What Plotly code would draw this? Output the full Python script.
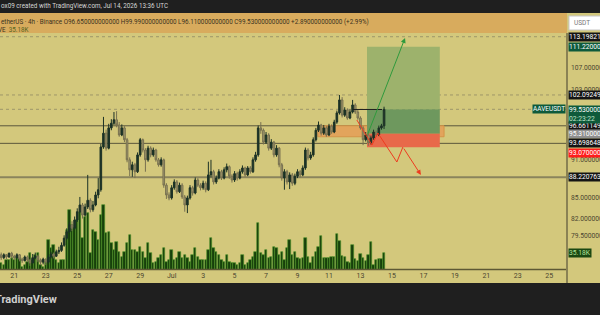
import math
import pandas as pd
import plotly.graph_objects as go

# ---------------- data ----------------
candle_start = "2026-06-20 04:00"
candle_count = 147
first_open = 76.9
close = [
    76.5, 76.9, 76.6, 77.1, 76.7,
    76.5, 76.9, 76.3, 76.1, 76.6, 76.2,
    75.8, 76.5, 76.7, 76.2, 75.9, 76.3,
    75.9, 76.6, 77.0, 76.7, 77.3, 77.5,
    78.2, 79.2, 80.1, 81.1, 80.6, 81.8,
    83.0, 84.0, 82.5, 83.7, 84.7, 83.3,
    84.0, 85.5, 86.3, 93.1, 95.4, 92.9,
    96.3, 97.1, 97.7, 96.8, 95.1, 96.3,
    94.3, 91.0, 89.4, 90.2, 89.1, 91.8,
    94.3, 92.6, 91.0, 92.9, 91.8, 92.6,
    91.0, 90.2, 91.0, 87.0, 85.5, 85.05,
    86.6, 87.5, 86.0, 87.0, 85.2, 84.0,
    85.05, 86.6, 85.8, 87.8, 87.0, 86.6,
    87.3, 86.3, 88.6, 89.1, 87.5, 88.1,
    89.1, 88.1, 89.4, 89.9, 88.4, 87.8,
    88.8, 88.1, 89.1, 89.7, 88.6, 89.7,
    89.1, 91.0, 91.8, 96.3, 95.9, 93.9,
    95.1, 92.9, 93.9, 91.8, 92.9, 90.2,
    88.1, 89.1, 87.5, 88.6, 87.3, 88.4,
    89.1, 88.6, 89.7, 92.6, 91.3, 91.8,
    94.3, 95.9, 96.8, 95.4, 96.3, 95.1,
    96.6, 95.6, 97.3, 98.9, 101.2, 98.5,
    99.4, 98.0, 99.05, 100.3, 99.05, 98.0,
    96.3, 94.3, 95.1, 93.8, 94.6, 95.6,
    95.1, 96.3, 96.65, 99.53,
]
high = [
    77.2, 77.1, 77.0, 77.2, 77.3,
    76.9, 77.1, 77.0, 76.5, 76.8, 76.8,
    76.3, 77.0, 77.2, 76.9, 76.4, 76.5,
    76.4, 76.9, 77.3, 77.2, 77.6, 78.0,
    78.6, 79.6, 80.6, 81.5, 81.6, 82.3,
    83.5, 85.2, 84.3, 84.2, 88.6, 85.0,
    84.6, 86.0, 88.1, 93.6, 98.2, 96.0,
    97.0, 97.8, 99.05, 99.2, 97.3, 96.9,
    96.6, 94.6, 91.4, 90.7, 90.5, 92.2,
    94.6, 94.5, 92.9, 93.3, 93.2, 93.0,
    92.8, 91.3, 91.4, 91.2, 87.3, 85.9,
    87.0, 87.9, 87.8, 87.4, 87.3, 85.5,
    85.4, 87.0, 86.9, 88.2, 88.1, 87.3,
    87.7, 87.6, 90.7, 91.0, 89.4, 88.5,
    89.5, 89.4, 89.8, 90.4, 90.1, 88.7,
    89.2, 89.1, 89.5, 90.1, 89.9, 90.0,
    90.0, 91.4, 92.3, 96.7, 97.3, 96.2,
    95.6, 95.4, 94.4, 94.1, 93.4, 93.1,
    90.5, 89.5, 89.4, 89.0, 88.9, 88.8,
    89.5, 89.4, 90.1, 93.0, 92.9, 92.3,
    94.7, 96.3, 97.4, 97.0, 96.8, 96.6,
    97.0, 96.9, 97.7, 99.3, 102.09, 101.7,
    99.9, 99.7, 99.5, 101.2, 100.6, 99.4,
    98.3, 96.6, 95.6, 95.4, 95.0, 96.0,
    95.9, 96.7, 97.0, 99.99,
]
low = [
    76.2, 76.3, 76.3, 76.5, 76.4,
    76.2, 76.4, 76.0, 75.8, 76.0, 75.9,
    75.4, 75.7, 76.3, 75.9, 75.5, 75.6,
    75.5, 75.7, 76.4, 76.4, 76.6, 77.0,
    77.3, 78.0, 79.0, 79.9, 80.2, 80.4,
    81.5, 82.8, 82.0, 82.3, 83.4, 82.9,
    83.0, 83.8, 85.0, 86.0, 92.8, 92.5,
    92.7, 95.9, 96.8, 96.4, 94.8, 94.9,
    93.9, 90.6, 88.4, 88.3, 88.1, 88.9,
    91.5, 92.2, 89.1, 90.7, 91.4, 91.5,
    90.7, 89.9, 89.9, 86.6, 84.9, 84.7,
    84.8, 86.3, 85.7, 85.8, 84.9, 83.0,
    82.8, 84.8, 85.4, 85.6, 86.7, 86.2,
    86.3, 85.9, 86.1, 88.2, 87.1, 87.2,
    87.9, 87.8, 87.9, 89.0, 88.0, 87.4,
    87.5, 87.7, 87.9, 88.8, 88.3, 88.4,
    88.8, 88.9, 90.7, 91.5, 95.3, 93.5,
    93.6, 92.5, 92.6, 91.4, 91.5, 89.8,
    87.7, 86.3, 87.1, 86.4, 86.9, 87.0,
    88.1, 88.2, 88.4, 89.4, 90.9, 91.0,
    91.5, 94.0, 95.6, 95.0, 95.1, 94.8,
    94.9, 95.3, 95.4, 97.0, 98.6, 98.1,
    98.2, 97.7, 97.8, 98.8, 98.7, 97.7,
    96.0, 93.4, 94.0, 93.3, 93.5, 94.3,
    94.8, 94.9, 96.0, 96.11,
]
volume_k = [
    13.8, 10.3, 20.7, 20.7, 24.1,
    20.7, 27.6, 24.1, 6.9, 10.3, 17.2,
    34.5, 20.7, 31.0, 34.5, 10.3, 6.9,
    17.2, 62.1, 44.8, 51.7, 20.7, 13.8,
    20.7, 20.7, 82.8, 124.2, 93.1, 86.2,
    103.5, 120.7, 65.5, 110.4, 117.3, 34.5,
    82.8, 79.3, 62.1, 113.8, 134.5, 75.9,
    79.3, 55.2, 41.4, 58.6, 37.9, 27.6,
    37.9, 55.2, 72.4, 41.4, 41.4, 37.9,
    48.3, 37.9, 24.1, 55.2, 34.5, 13.8,
    17.2, 24.1, 31.0, 44.8, 17.2, 20.7,
    41.4, 20.7, 24.1, 37.9, 24.1, 31.0,
    24.1, 17.2, 31.0, 44.8, 27.6, 20.7,
    20.7, 20.7, 41.4, 65.5, 44.8, 37.9,
    31.0, 20.7, 17.2, 31.0, 17.2, 13.8,
    13.8, 10.3, 13.8, 31.0, 10.3, 13.8,
    20.7, 27.6, 37.9, 96.6, 34.5, 31.0,
    41.4, 24.1, 27.6, 48.3, 44.8, 31.0,
    37.9, 20.7, 44.8, 62.1, 31.0, 37.9,
    24.1, 22.8, 24.1, 65.5, 27.6, 13.8,
    27.6, 37.9, 48.3, 71.1, 25.5, 24.1,
    24.1, 27.6, 27.6, 74.5, 60.7, 29.0,
    27.6, 17.2, 13.8, 51.7, 22.8, 18.6,
    32.4, 25.5, 18.6, 31.0, 57.3, 10.3,
    20.7, 22.1, 22.8, 35.18,
]

tick_dates = ["2026-06-21", "2026-06-23", "2026-06-25", "2026-06-27", "2026-06-29",
              "2026-07-01", "2026-07-03", "2026-07-05", "2026-07-07", "2026-07-09",
              "2026-07-11", "2026-07-13", "2026-07-15", "2026-07-17", "2026-07-19",
              "2026-07-21", "2026-07-23", "2026-07-25"]
tick_text = ["21", "23", "25", "27", "29", "Jul", "3", "5", "7", "9",
             "11", "13", "15", "17", "19", "21", "23", "25"]

x_range = ["2026-06-20 02:11", "2026-07-26 03:02"]
price_range = [74.85, 113.95]
volume_range = [0, 490]

solid_levels = [96.661149, 93.698648]
thick_level = 88.220763
dotted_levels = [113.19821, 102.092495, 99.53]

plain_labels = [107.0, 103.0, 91.0, 85.0, 82.0, 79.5]
plain_label_text = ["107.000000", "103.000000", "91.000000", "85.000000", "82.000000", "79.500000"]
box_labels = [113.19821, 111.22, 102.092495, 96.661149, 95.31, 93.698648, 93.07, 88.220763]
box_label_text = ["113.198210", "111.220000", "102.092495", "96.661149", "95.310000",
                  "93.698648", "93.070000", "88.220763"]
box_label_bg = ["#141414", "#0e5a3b", "#141414", "#141414", "#8f8f8f", "#141414", "#ff1c1c", "#141414"]
box_label_shift = [0, 0, 0, 0, 0, 0, -5.6, 0]
last_price = 99.53
countdown = "02:23:22"
last_volume = 35.18

zone_start, zone_end, zone_top, zone_bottom = "2026-07-10 07:00", "2026-07-18 07:30", 96.66, 94.8
pos_start, pos_end = "2026-07-13 10:00", "2026-07-18 01:00"
pos_entry, pos_target, pos_stop = 95.31, 111.22, 93.07
seg_start, seg_end, seg_price = "2026-07-12 12:30", "2026-07-14 08:50", 99.5
green_arrow_from = ("2026-07-13 10:00", 94.93)
green_arrow_to = ("2026-07-15 20:00", 112.94)
red_path_dates = ["2026-07-12 18:30", "2026-07-13 17:30", "2026-07-14 02:30",
                  "2026-07-15 07:30", "2026-07-15 16:40", "2026-07-16 20:10"]
red_path_prices = [97.66, 93.42, 95.44, 90.65, 93.08, 88.59]

# ---------------- styling ----------------
BG = "#d3c87c"
HEADER = "#d8ab5d"
DARK = "#1f1f1f"
FONT = "Roboto"
AX = 6.7
HD = 6.3

dates = pd.date_range(candle_start, periods=candle_count, freq="4h")
opens = [first_open] + close[:-1]

fig = go.Figure()
fig.add_trace(go.Bar(
    x=dates, y=volume_k, yaxis="y",
    width=4 * 3600 * 1000 * 0.9,
    marker=dict(color="#17400b", line=dict(color="#4b9428", width=0.6)),
    hoverinfo="skip", showlegend=False,
))
fig.add_trace(go.Candlestick(
    x=dates, open=opens, high=high, low=low, close=close, yaxis="y2",
    increasing=dict(line=dict(color="#1c3226", width=1), fillcolor="#1c3226"),
    decreasing=dict(line=dict(color="#777050", width=1), fillcolor="#a39c70"),
    whiskerwidth=0, showlegend=False, hoverinfo="skip",
))
fig.add_trace(go.Scatter(
    x=red_path_dates[:-1], y=red_path_prices[:-1], yaxis="y2", mode="lines",
    line=dict(color="#ee3b1f", width=1), hoverinfo="skip", showlegend=False,
))

shapes = []
shapes.append(dict(type="rect", xref="paper", yref="paper", x0=-0.01, x1=1.07, y0=1.0844, y1=1.2,
                   fillcolor=DARK, line=dict(width=0), layer="above"))
shapes.append(dict(type="rect", xref="paper", yref="paper", x0=-0.01, x1=1.0, y0=1.0, y1=1.0844,
                   fillcolor=HEADER, line=dict(width=0), layer="above"))
shapes.append(dict(type="rect", xref="paper", yref="paper", x0=1.0035, x1=1.07, y0=1.0127, y1=1.0717,
                   fillcolor="#ffffff", line=dict(color="#c8c8c8", width=1), layer="above"))
shapes.append(dict(type="rect", xref="paper", yref="paper", x0=-0.01, x1=1.07, y0=-0.2, y1=-0.0549,
                   fillcolor=DARK, line=dict(width=0), layer="above"))
shapes.append(dict(type="line", xref="paper", yref="paper", x0=0, x1=1, y0=0.002, y1=0.002,
                   line=dict(color="#5d5834", width=1.5), layer="above"))
shapes.append(dict(type="line", xref="paper", yref="paper", x0=1.0, x1=1.0, y0=-0.0549, y1=1.0,
                   line=dict(color="#8a8254", width=2), layer="above"))
shapes.append(dict(type="rect", xref="x", yref="y2", x0=zone_start, x1=zone_end, y0=zone_bottom, y1=zone_top,
                   fillcolor="#e2a45c", line=dict(color="#d49448", width=1), layer="below"))
shapes.append(dict(type="rect", xref="x", yref="y2", x0=pos_start, x1=pos_end, y0=last_price, y1=pos_target,
                   fillcolor="#9db26c", line=dict(width=0), layer="below"))
shapes.append(dict(type="rect", xref="x", yref="y2", x0=pos_start, x1=pos_end, y0=pos_entry, y1=last_price,
                   fillcolor="#6e985e", line=dict(width=0), layer="below"))
shapes.append(dict(type="rect", xref="x", yref="y2", x0=pos_start, x1=pos_end, y0=pos_stop, y1=pos_entry,
                   fillcolor="#e8694a", line=dict(width=0), layer="below"))
for lv in solid_levels:
    shapes.append(dict(type="line", xref="paper", yref="y2", x0=0, x1=1, y0=lv, y1=lv,
                       line=dict(color="#5b573c", width=1), layer="below"))
shapes.append(dict(type="line", xref="paper", yref="y2", x0=0, x1=1, y0=thick_level, y1=thick_level,
                   line=dict(color="#8a845c", width=2), layer="below"))
for lv in dotted_levels:
    shapes.append(dict(type="line", xref="paper", yref="y2", x0=0, x1=1, y0=lv, y1=lv,
                       line=dict(color="#9e966a", width=1, dash="dot"), layer="below"))
shapes.append(dict(type="line", xref="x", yref="y2", x0=seg_start, x1=seg_end, y0=seg_price, y1=seg_price,
                   line=dict(color="#1e1e1e", width=1), layer="above"))

ann = []
L = math.log10
ann.append(dict(xref="paper", yref="paper", x=0, y=(270 - 6.5) / 237, xanchor="left", yanchor="middle",
                xshift=-1, showarrow=False,
                text="ox09 created with TradingView.com, Jul 14, 2026 13:36 UTC",
                font=dict(family=FONT, size=HD, color="#d6d6d6")))
ann.append(dict(xref="paper", yref="paper", x=0, y=(270 - 21.5) / 237, xanchor="left", yanchor="middle",
                xshift=-1, showarrow=False,
                text="etherUS · 4h · Binance O96.650000000000 H99.990000000000 L96.110000000000 "
                     "C99.530000000000 +2.890000000000 (+2.99%)",
                font=dict(family=FONT, size=HD, color="#3a3220")))
ann.append(dict(xref="paper", yref="paper", x=0, y=(270 - 30) / 237, xanchor="left", yanchor="middle",
                xshift=-4, showarrow=False,
                text="VE  <span style='color:#56651e'>35.18K</span>",
                font=dict(family=FONT, size=HD, color="#3a3220")))
ann.append(dict(xref="paper", yref="paper", x=1, y=(270 - 23.5) / 237, xanchor="left", yanchor="middle",
                xshift=5, showarrow=False, text="USDT",
                font=dict(family=FONT, size=6.5, color="#777777")))
ann.append(dict(xref="paper", yref="paper", x=0, y=(270 - 299) / 237, xanchor="left", yanchor="middle",
                xshift=-7, showarrow=False, text="<b>TradingView</b>",
                font=dict(family=FONT, size=11, color="#cfcfcf")))
for v, t in zip(plain_labels, plain_label_text):
    ann.append(dict(xref="paper", yref="y2", x=1, y=L(v), xanchor="left", yanchor="middle", xshift=2,
                    showarrow=False, text=t, font=dict(family=FONT, size=AX, color="#4a4530")))
for v, t, bg, sh in zip(box_labels, box_label_text, box_label_bg, box_label_shift):
    ann.append(dict(xref="paper", yref="y2", x=1, y=L(v), xanchor="left", yanchor="middle", xshift=1,
                    yshift=sh, showarrow=False, text=t, bgcolor=bg, borderpad=0,
                    font=dict(family=FONT, size=AX, color="#ffffff")))
ann.append(dict(xref="paper", yref="y2", x=1, y=L(last_price), xanchor="left", yanchor="top", xshift=1,
                yshift=4.8, showarrow=False, bgcolor="#0e5a3b", borderpad=0, align="left",
                text=f"{last_price:.6f}<br><span style='color:#bfe2c8'>{countdown}</span>",
                font=dict(family=FONT, size=AX, color="#ffffff")))
ann.append(dict(xref="paper", yref="y2", x=1, y=L(last_price), xanchor="right", yanchor="middle", xshift=-1,
                showarrow=False, bgcolor="#0e5a3b", borderpad=0, text="AAVEUSDT",
                font=dict(family=FONT, size=6.5, color="#ffffff")))
ann.append(dict(xref="paper", yref="y", x=1, y=last_volume, xanchor="left", yanchor="middle", xshift=1,
                showarrow=False, bgcolor="#1b4812", borderpad=0, text=f"{last_volume:.2f}K",
                font=dict(family=FONT, size=AX, color="#b5e39a")))
ann.append(dict(xref="x", yref="y2", axref="x", ayref="y2",
                x=green_arrow_to[0], y=L(green_arrow_to[1]),
                ax=green_arrow_from[0], ay=L(green_arrow_from[1]),
                showarrow=True, arrowhead=2, arrowsize=1, arrowwidth=1, arrowcolor="#2f9a3c", text=""))
ann.append(dict(xref="x", yref="y2", axref="x", ayref="y2",
                x=red_path_dates[-1], y=L(red_path_prices[-1]),
                ax=red_path_dates[-2], ay=L(red_path_prices[-2]),
                showarrow=True, arrowhead=2, arrowsize=1, arrowwidth=1, arrowcolor="#ee3b1f", text=""))

fig.update_layout(
    width=600, height=315,
    margin=dict(l=0, r=33, t=33, b=45),
    paper_bgcolor=BG, plot_bgcolor=BG,
    font=dict(family=FONT),
    showlegend=False,
    bargap=0,
    boxgap=0.12,
    shapes=shapes,
    annotations=ann,
    xaxis=dict(type="date", range=x_range, showgrid=False, zeroline=False, showline=False,
               tickmode="array", tickvals=tick_dates, ticktext=tick_text, ticks="",
               tickfont=dict(family=FONT, size=7, color="#4a4530"),
               rangeslider=dict(visible=False), fixedrange=True),
    yaxis=dict(range=volume_range, visible=False, fixedrange=True),
    yaxis2=dict(type="log", range=[L(price_range[0]), L(price_range[1])], overlaying="y",
                side="right", visible=False, fixedrange=True),
)

fig.write_html("out.html")
